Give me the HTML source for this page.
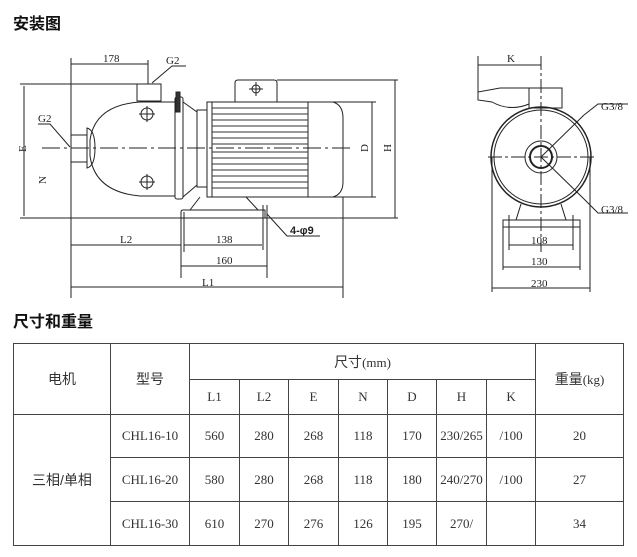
<!DOCTYPE html>
<html><head><meta charset="utf-8"><style>
body{margin:0;background:#fff;width:637px;height:557px;overflow:hidden;font-family:"Liberation Serif","Noto Serif CJK SC",serif}
.h{position:absolute;left:13px;font:bold 16px "Liberation Sans","Noto Sans CJK SC",sans-serif;color:#111}
table{position:absolute;left:13px;top:343px;border-collapse:collapse;width:610px;table-layout:fixed;font-size:13px;color:#333}
td{border:1px solid #444;text-align:center;padding:0;white-space:nowrap;overflow:hidden}
.c{font-family:"Liberation Sans","Noto Sans CJK SC",sans-serif;font-size:14px}
</style></head><body>
<div class="h" style="top:10px">安装图</div>
<div class="h" style="top:308px">尺寸和重量</div>
<svg width="637" height="300" style="position:absolute;left:0;top:0" stroke="#222" fill="none" stroke-width="1">
<g font-family="Liberation Serif" font-size="11" fill="#222" stroke="none">
<text x="103" y="62">178</text><text x="166" y="64">G2</text><text x="38" y="122">G2</text>
<text x="120" y="243">L2</text><text x="216" y="243">138</text><text x="216" y="264">160</text><text x="202" y="286">L1</text>
<text x="290" y="234" font-weight="bold" font-family="Liberation Sans">4-φ9</text>
<text x="18" y="152" transform="rotate(-90 22 148)">E</text><text x="38" y="184" transform="rotate(-90 42 180)">N</text>
<text x="362" y="150" transform="rotate(-90 366 148)">D</text><text x="383" y="152" transform="rotate(-90 387 148)">H</text>
<text x="507" y="62">K</text><text x="601" y="110">G3/8</text><text x="601" y="213">G3/8</text>
<text x="531" y="244">108</text><text x="531" y="265">130</text><text x="531" y="287">230</text>
</g>
<line x1="20" y1="218" x2="398" y2="218"/>
<line x1="71" y1="58" x2="71" y2="298"/>
<line x1="71" y1="64" x2="148" y2="64"/><line x1="148" y1="60" x2="148" y2="84"/>
<polyline points="186,66 172,66 152,83"/>
<polyline points="38,124 50,124 70,147"/>
<line x1="20" y1="84" x2="137" y2="84"/>
<line x1="24" y1="86" x2="24" y2="216"/>
<rect x="137" y="84" width="24" height="17"/>
<path d="M175,102 L140,102 Q95,105 90,140 L90,156 Q95,192 140,196 L175,196"/>
<rect x="71" y="135" width="16" height="27"/>
<path d="M87,128 Q95,130 95,148 Q95,166 87,168 Z"/>
<line x1="42" y1="148" x2="352" y2="148" stroke-dasharray="18,4,3,4"/>
<circle cx="147" cy="114" r="6"/><line x1="139" y1="114" x2="155" y2="114"/><line x1="147" y1="106" x2="147" y2="122"/>
<circle cx="147" cy="182" r="6"/><line x1="139" y1="182" x2="155" y2="182"/><line x1="147" y1="174" x2="147" y2="190"/>
<rect x="175" y="97" width="8" height="102" rx="2"/>
<path d="M176,92 L180,92 L180,112 L176,112 Z" fill="#333"/>
<path d="M183,102 L197,112 L197,185 L183,197"/>
<rect x="197" y="110" width="10" height="77"/>
<rect x="207" y="102" width="101" height="95"/>
<line x1="212" y1="102" x2="212" y2="197"/>
<g stroke="#333">
<line x1="212" y1="108" x2="308" y2="108"/><line x1="212" y1="114" x2="308" y2="114"/><line x1="212" y1="120" x2="308" y2="120"/><line x1="212" y1="126" x2="308" y2="126"/><line x1="212" y1="132" x2="308" y2="132"/><line x1="212" y1="138" x2="308" y2="138"/><line x1="212" y1="144" x2="308" y2="144"/><line x1="212" y1="152" x2="308" y2="152"/><line x1="212" y1="158" x2="308" y2="158"/><line x1="212" y1="164" x2="308" y2="164"/><line x1="212" y1="170" x2="308" y2="170"/><line x1="212" y1="176" x2="308" y2="176"/><line x1="212" y1="182" x2="308" y2="182"/><line x1="212" y1="188" x2="308" y2="188"/></g>
<path d="M308,102 L333,102 Q343,105 343,118 L343,182 Q343,194 333,197 L308,197"/>
<path d="M235,102 L235,83 Q235,80 238,80 L274,80 Q277,80 277,83 L277,102"/>
<circle cx="256" cy="89" r="4"/><line x1="249" y1="89" x2="263" y2="89"/><line x1="256" y1="82" x2="256" y2="96"/>
<line x1="277" y1="80" x2="398" y2="80"/><line x1="395" y1="80" x2="395" y2="218"/>
<line x1="330" y1="102" x2="376" y2="102"/><line x1="330" y1="197" x2="376" y2="197"/><line x1="372" y1="102" x2="372" y2="197"/>
<path d="M181,218 L181,212 Q181,210 183,210 L265,210 L265,218"/>
<line x1="200" y1="197" x2="190" y2="210"/><line x1="246" y1="197" x2="258" y2="210"/>
<line x1="181" y1="212" x2="181" y2="278"/><line x1="184" y1="212" x2="184" y2="252"/>
<line x1="263" y1="205" x2="263" y2="250"/><line x1="267" y1="205" x2="267" y2="278"/>
<polyline points="267,214 287,236 320,236"/>
<line x1="71" y1="245" x2="181" y2="245"/><line x1="184" y1="245" x2="262" y2="245"/>
<line x1="181" y1="266" x2="267" y2="266"/><line x1="71" y1="287" x2="343" y2="287"/>
<line x1="343" y1="197" x2="343" y2="298"/>
<line x1="478" y1="56" x2="478" y2="100"/><line x1="478" y1="65" x2="541" y2="65"/>
<line x1="541" y1="56" x2="541" y2="252" stroke-dasharray="14,3,3,3"/>
<line x1="488" y1="157" x2="596" y2="157" stroke-dasharray="14,3,3,3"/>
<circle cx="541" cy="157" r="50" stroke-width="1.5"/><circle cx="541" cy="157" r="47"/>
<circle cx="541" cy="157" r="16"/><circle cx="541" cy="157" r="11" stroke-width="2"/>
<path d="M478,100 L478,92 L500,88 L529,88 L529,104 Q510,112 492,102 Z"/>
<rect x="529" y="88" width="33" height="20"/><line x1="562" y1="88" x2="562" y2="104"/>
<line x1="541" y1="157" x2="584" y2="115"/><polyline points="584,115 598,104 628,104"/>
<line x1="541" y1="157" x2="584" y2="199"/><polyline points="584,199 598,213 628,213"/>
<rect x="503" y="220" width="77" height="7"/>
<line x1="521" y1="204" x2="516" y2="220"/><line x1="561" y1="204" x2="566" y2="220"/>
<line x1="509" y1="215" x2="509" y2="250"/><line x1="573" y1="215" x2="573" y2="250"/>
<line x1="503" y1="227" x2="503" y2="270"/><line x1="580" y1="227" x2="580" y2="270"/>
<line x1="492" y1="157" x2="492" y2="292"/><line x1="590" y1="157" x2="590" y2="292"/>
<line x1="509" y1="245" x2="573" y2="245"/><line x1="503" y1="267" x2="580" y2="267"/><line x1="492" y1="288" x2="590" y2="288"/>
</svg>
<table>
<colgroup><col style="width:97px"><col style="width:79px"><col style="width:50px"><col style="width:49px"><col style="width:50px"><col style="width:49px"><col style="width:49px"><col style="width:50px"><col style="width:49px"><col style="width:88px"></colgroup>
<tr style="height:36px"><td rowspan="2" class="c">电机</td><td rowspan="2" class="c">型号</td><td colspan="7"><span class="c">尺寸</span>(mm)</td><td rowspan="2"><span class="c">重量</span>(kg)</td></tr>
<tr style="height:35px"><td>L1</td><td>L2</td><td>E</td><td>N</td><td>D</td><td>H</td><td>K</td></tr>
<tr style="height:43px"><td rowspan="3" class="c">三相/单相</td><td>CHL16-10</td><td>560</td><td>280</td><td>268</td><td>118</td><td>170</td><td>230/265</td><td>/100</td><td>20</td></tr>
<tr style="height:44px"><td>CHL16-20</td><td>580</td><td>280</td><td>268</td><td>118</td><td>180</td><td>240/270</td><td>/100</td><td>27</td></tr>
<tr style="height:44px"><td>CHL16-30</td><td>610</td><td>270</td><td>276</td><td>126</td><td>195</td><td>270/</td><td></td><td>34</td></tr>
</table>
</body></html>
